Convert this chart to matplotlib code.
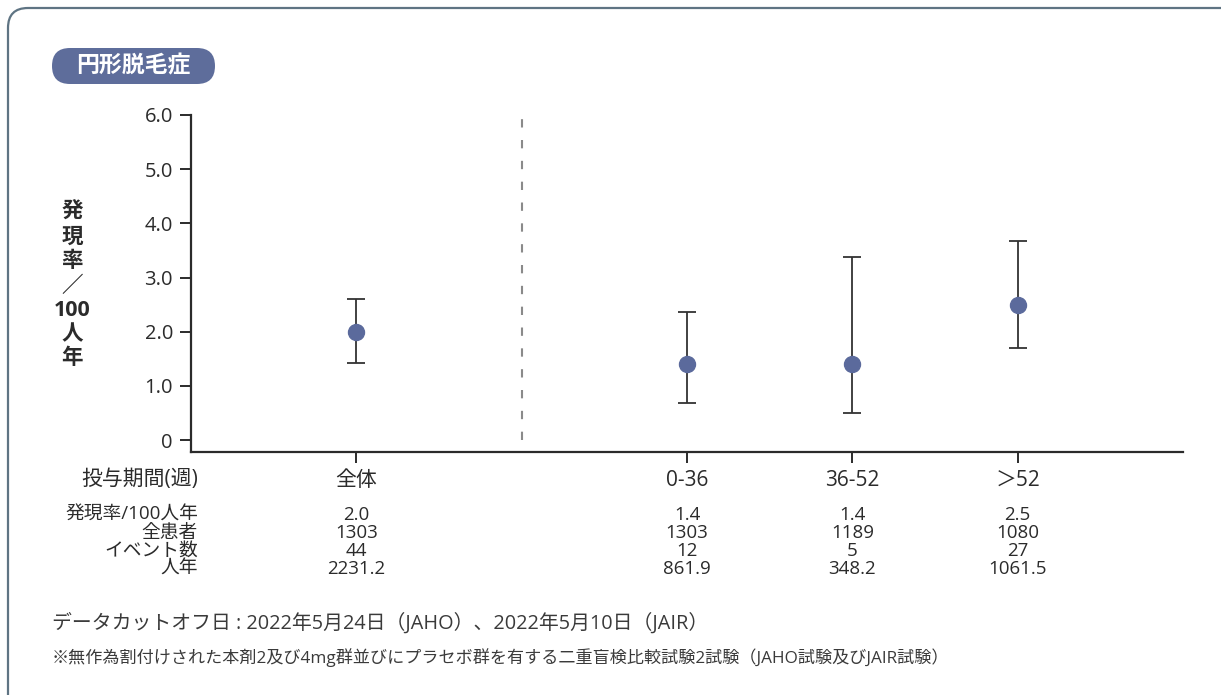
import matplotlib
matplotlib.use('Agg')
import matplotlib.pyplot as plt
from matplotlib.patches import FancyBboxPatch
from matplotlib.transforms import IdentityTransform, blended_transform_factory

# Latin glyphs from Open Sans, Japanese falls through to the CJK family
plt.rcParams['font.family'] = ['Open Sans', 'Noto Sans CJK JP', 'DejaVu Sans']
plt.rcParams['savefig.bbox'] = 'standard'

# data
categories = ['全体', '0-36', '36-52', '＞52']
rate = [2.0, 1.4, 1.4, 2.5]
ci_low = [1.42, 0.68, 0.50, 1.70]
ci_high = [2.60, 2.36, 3.38, 3.67]
patients = [1303, 1303, 1189, 1080]
events = [44, 12, 5, 27]
person_years = [2231.2, 861.9, 348.2, 1061.5]
rate_labels = ['2.0', '1.4', '1.4', '2.5']
yticks = [0, 1, 2, 3, 4, 5, 6]
ytick_labels = ['0', '1.0', '2.0', '3.0', '4.0', '5.0', '6.0']
row_names = ['発現率/100人年', '全患者', 'イベント数', '人年']

W, H = 1221, 695
TEXT = '#2b2b2b'
BLUE = '#5b6a9c'
positions = [1, 3, 4, 5]  # gap at 2 holds the dashed divider


def fy(py):
    # pixel y from top -> figure fraction
    return 1 - py / H


def fx(px):
    return px / W


fig = plt.figure(figsize=(W / 100, H / 100), dpi=100)

# outer rounded frame (open past right/bottom edges)
frame = FancyBboxPatch((8, -60), 1240, 687 + 60, boxstyle='round,pad=0,rounding_size=20',
                       transform=IdentityTransform(), fc='none', ec='#5f7483', lw=1.6)
frame.set_clip_on(False)
fig.patches.append(frame)

# title badge
badge = FancyBboxPatch((52, H - 84), 163, 36, boxstyle='round,pad=0,rounding_size=18',
                       transform=IdentityTransform(), fc='#5e6d9b', ec='none')
fig.patches.append(badge)
fig.text(fx(133.5), fy(66), '円形脱毛症', color='white', fontsize=16.5,
         fontweight='bold', ha='center', va='center')

ax = fig.add_axes([fx(191), fy(452), fx(1183 - 191), (452 - 115) / H])
ax.set_xlim(0, 6)
ax.set_ylim(-0.22, 6.0)

lower = [r - lo for r, lo in zip(rate, ci_low)]
upper = [hi - r for r, hi in zip(rate, ci_high)]
ax.errorbar(positions, rate, yerr=[lower, upper], fmt='none', ecolor='#333333',
            elinewidth=1.3, capsize=6.5, capthick=1.3, zorder=2)
ax.plot(positions, rate, 'o', color=BLUE, markersize=11.5, zorder=3)

ax.vlines(2, 0, 6.0, colors='#8a8a8a', linestyles=(0, (4, 6)), lw=1.5)

for side in ['top', 'right']:
    ax.spines[side].set_visible(False)
for side in ['left', 'bottom']:
    ax.spines[side].set_linewidth(1.6)
    ax.spines[side].set_color('#2b2b2b')

ax.set_yticks(yticks)
ax.set_yticklabels(ytick_labels)
ax.set_xticks(positions)
ax.set_xticklabels([])
ax.tick_params(axis='both', direction='out', length=8, width=1.4, color='#2b2b2b',
               labelsize=14.5, labelcolor=TEXT, pad=5)

# vertical y-axis title, one glyph per line
ylabel_parts = ['発', '現', '率', '／', '100', '人', '年']
ylabel_y = [212, 237, 262, 287, 311, 335, 359]
for part, py in zip(ylabel_parts, ylabel_y):
    fig.text(fx(72), fy(py), part, fontsize=15.5, fontweight='bold',
             color=TEXT, ha='center', va='center')

# table below the axis
trans = blended_transform_factory(ax.transData, fig.transFigure)
fig.text(fx(198), fy(480), '投与期間(週)', fontsize=15, color=TEXT,
         ha='right', va='center')
for pos, cat in zip(positions, categories):
    ax.text(pos, fy(480), cat, transform=trans, fontsize=15, color=TEXT,
            ha='center', va='center')

row_y = [515, 533, 551, 569]
columns = [rate_labels, [str(v) for v in patients], [str(v) for v in events],
           ['{:.1f}'.format(v) for v in person_years]]
for name, py, vals in zip(row_names, row_y, columns):
    fig.text(fx(198), fy(py), name, fontsize=13.5, color=TEXT, ha='right', va='center')
    for pos, v in zip(positions, vals):
        ax.text(pos, fy(py), v, transform=trans, fontsize=13.5, color=TEXT,
                ha='center', va='center')

fig.text(fx(52), fy(623), 'データカットオフ日 : 2022年5月24日（JAHO）、2022年5月10日（JAIR）',
         fontsize=14.3, color='#3a3a3a', ha='left', va='center')
fig.text(fx(52), fy(658),
         '※無作為割付けされた本剤2及び4mg群並びにプラセボ群を有する二重盲検比較試験2試験（JAHO試験及びJAIR試験）',
         fontsize=12.3, color='#3a3a3a', ha='left', va='center')

fig.savefig('out.png', dpi=100)
